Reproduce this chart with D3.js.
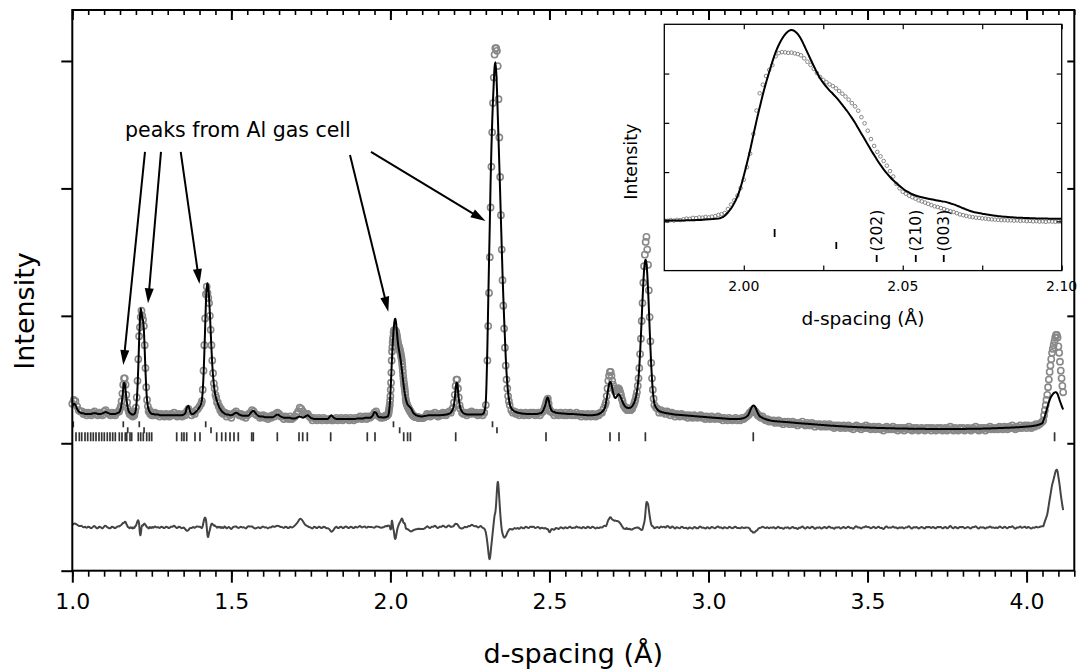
<!DOCTYPE html>
<html>
<head>
<meta charset="utf-8">
<script src="https://cdn.jsdelivr.net/npm/d3@7"></script>
<style>
  html, body { margin: 0; padding: 0; background: #fff; }
  svg { display: block; font-family: "DejaVu Sans", Verdana, sans-serif; }
</style>
</head>
<body>
<svg id="chart" width="1081" height="672"></svg>
<script>
// ---------------------------------------------------------------------------
// Powder diffraction pattern: observed (circles), calculated (line),
// difference (lower trace) and reflection markers for three phases.
// Intensities are in arbitrary units (100 = one major tick).
// ---------------------------------------------------------------------------

// Sampling segments of the pattern: [first d, last d, step] in Å
const sampleSegments = [
  [1.000, 1.145, 0.005],
  [1.1475, 1.2525, 0.0025],
  [1.255, 1.405, 0.005],
  [1.4075, 1.4775, 0.0025],
  [1.480, 1.970, 0.005],
  [1.975, 2.100, 0.001],
  [2.105, 2.195, 0.005],
  [2.1975, 2.2175, 0.0025],
  [2.220, 2.305, 0.005],
  [2.3075, 2.3725, 0.0025],
  [2.375, 2.480, 0.005],
  [2.4825, 2.5025, 0.0025],
  [2.505, 2.675, 0.005],
  [2.6775, 2.8275, 0.0025],
  [2.830, 3.125, 0.005],
  [3.1275, 3.1575, 0.0025],
  [3.160, 4.050, 0.005],
  [4.0525, 4.115, 0.0025]
];

// Observed intensities, one row per sampling segment
const observedBySegment = [
  [31,34,33,29,26,25,25,23,24,22,24,23,22,24,25,23,22,24,23,22,25,26,24,23,22,24,23,22,24,25],
  [25,27,29,33,39,46,51,51,46,38,32,27,25,23,24,22,23,21,23,22,25,
   28,36,49,66,84,91,99,104,100,97,92,77,59,44,34,29,25,26,23,24,22,24],
  [22,24,22,23,21,23,22,21,23,22,21,23,22,24,22,21,23,22,21,
   23,22,25,27,25,22,24,23,26,27,29,31],
  [33,42,57,77,98,117,123,118,114,110,100,89,77,65,55,47,43,38,36,32,32,29,29,26,27,24,25,23,24],
  [24,21,23,22,20,23,24,25,23,22,
   23,21,22,20,22,23,24,26,25,23,
   22,22,20,21,22,20,21,19,21,20,
   22,21,23,24,23,21,21,19,21,20,
   19,21,19,20,21,23,25,28,27,25,
   23,23,23,21,20,18,20,19,18,20,
   19,18,20,19,18,19,19,18,18,19,
   20,18,19,20,18,19,20,19,18,20,
   19,18,20,19,20,21,19,20,21,19,
   21,20,21,22,24,25,22,21,20],
  [20.4,20.2,20.5,20.3,20.6,20.5,20.8,21.1,21.0,21.4,
   21.3,21.6,21.5,21.8,21.6,21.9,22.1,22.6,22.9,23.4,
   25.0,26.8,28.5,30.4,33.5,36.9,42.0,47.5,55.5,65.0,
   72.0,75.5,79.0,81.5,83.4,87.0,88.3,88.7,88.6,88.4,
   88.5,88.2,87.9,87.4,86.2,84.8,83.5,81.9,80.2,78.6,
   77.4,76.5,75.6,74.9,74.0,72.9,71.8,70.7,69.4,68.0,
   66.7,64.9,62.3,59.8,56.8,53.4,50.6,48.2,46.4,44.5,
   42.6,40.4,38.2,35.2,33.4,32.0,31.2,30.4,29.8,29.2,
   28.5,28.1,27.6,27.1,26.6,26.1,25.8,25.4,25.0,24.5,
   24.1,23.8,23.3,22.8,22.5,22.2,21.9,21.7,21.5,21.4,
   21.2,21.1,20.9,20.8,20.7,20.6,20.5,20.5,20.4,20.4,
   20.3,20.4,20.2,20.3,20.1,20.2,20.0,20.1,19.9,20.0,
   19.8,20.0,19.9,19.8,19.9,19.8],
  [20,21,23,22,21,23,22,24,22,21,23,22,24,23,22,24,25,24,27],
  [28,32,38,45,50,50,43,36,30],
  [27,24,23,24,22,24,23,25,24,23,24,22,23,24,22,24,30,65],
  [92,118,146,185,217,244,267,287,305,310,310,308,296,270,240,209,179,152,128,108,90,75,61,50,43,37,33],
  [30,26,24,25,23,24,22,24,23,22,24,23,22,24,23,24,22,23,24,22,24,25],
  [26,28,30,32,34,35,31,27,25],
  [25,24,22,24,23,22,24,23,22,24,22,23,24,22,23,22,24,22,23,21,23,22,21,23,22,21,23,22,21,23,22,24,24,27,30],
  [32,37,43,49,53,56,56,53,49,46,
   43,41,41,41,42,43,43,42,40,38,
   35,33,30,29,28,27,28,26,27,26,
   27,26,27,27,29,30,32,34,37,40,
   45,51,59,70,82,96,110,126,139,148,
   158,162,152,140,120,99,80,63,51,42,
   35],
  [30,28,27,24,26,24,25,23,25,24,
   22,24,23,21,23,22,21,23,22,21,
   22,20,22,21,20,22,21,20,21,22,
   20,21,19,21,20,19,21,20,19,20,
   21,19,20,18,20,19,18,20,19,18,
   19,20,18,19,18,20,19,20,21,22],
  [23,24,24,25,26,25,26,25,25,24,23,22,22],
  [21,20,21,19,18,19,17,18,17,
   18,16,17,18,16,17,15,17,16,17,15,16,17,15,16,14,16,15,17,15,
   14,16,15,14,16,15,13,15,14,15,13,14,15,13,14,15,13,14,12,14,
   13,14,12,13,14,12,13,14,12,13,11,13,14,12,13,11,13,12,14,12,
   13,11,12,13,11,12,13,11,12,10,12,13,11,12,11,13,11,12,10,12,
   11,12,10,12,11,13,11,10,12,11,12,10,11,12,11,10,12,11,12,10,
   12,11,10,12,11,12,10,11,12,10,11,13,11,10,12,11,10,12,11,12,
   10,11,12,11,10,12,11,13,11,10,12,11,12,10,12,11,13,11,12,11,
   12,11,13,12,11,13,12,11,13,12,14,12,11,13,12,14,12,13,14,12,
   14,13,12,14,13,15,14,15,16,17],
  [18,22,26,30,34,38,44,50,56,61,66,71,74,77,80,83,85,85,83,76,71,64,57,51,45,40]
];

// Calculated (refined model) intensities, one row per sampling segment
const calculatedBySegment = [
  [29,31,30,27,25,24,23.5,23.5,23,23,23,23,23,23.5,23.5,23.5,23,23,23,23.5,24,24.5,24,23.5,23,23,23,23,23.5,24],
  [24.5,25.5,27.5,31,36,42.5,47.5,46.5,41.5,35.5,30.5,27,25,24,23.5,23,22.5,22.5,22.5,23,24,
   27,33,44,60,80,97,106,103,98,96,89,74,57,43,34,29,26.5,25,24,23.5,23,23],
  [23,22.5,22.5,22.5,22,22,22,22,22,22,22,22,22,22,22,22,22,22,22,
   22.5,23.5,28,29.5,25,23,23,24,25,26.5,28.5,31],
  [34,41,53,70,90,110,122,125.5,122,114,102,88,74,62,53,46,41,37.5,35,33,31,29.5,28,27,26,25,24.5,24,23.5],
  [23,22.5,22.5,22,22,22.5,23.5,24,23.5,22.5,
   22,21.5,21.5,21.5,21.5,22,23.5,25,25.5,24,
   22.5,21.5,21,21,21,20.5,20.5,20.5,20.5,20.5,
   20.5,21,22,22.5,22,21,20.5,20,20,20,
   20,20,19.5,19.5,19.5,20,20.5,21,20.5,20,
   20.5,21.5,22,21,20,19.5,19,19,19,19,
   19,19,19,19,19,19.5,21,22,20.5,19.5,
   19,19,19,19,19,19,19,19,19,19,
   19,19,19,19.5,19.5,19.5,19.5,19.5,20,20,
   20,20,20.5,22,24.5,24,21.5,20.5,20.5],
  [20.3,20.3,20.3,20.3,20.3,20.3,20.3,20.4,20.4,20.4,
   20.5,20.5,20.6,20.7,20.8,20.9,21.0,21.1,21.5,22.3,
   23.6,25.2,27.4,30.1,33.8,38.5,43.6,49.0,54.9,60.8,
   66.2,71.5,76.3,80.6,84.8,88.6,91.6,94.0,95.9,97.2,
   97.7,97.2,96.0,94.0,91.4,88.6,85.8,83.1,80.4,78.1,
   76.2,74.6,73.1,71.8,70.4,68.9,67.3,65.6,63.9,62.0,
   60.0,57.8,55.6,53.4,51.2,49.0,46.9,44.8,42.9,41.1,
   39.5,38.0,36.7,35.5,34.4,33.3,32.4,31.7,31.0,30.5,
   30.1,29.8,29.5,29.2,29.0,28.7,28.5,28.2,28.0,27.7,
   27.3,26.9,26.4,25.9,25.3,24.8,24.3,23.9,23.6,23.4,
   23.1,22.9,22.7,22.5,22.3,22.1,22.0,21.9,21.8,21.7,
   21.6,21.5,21.5,21.4,21.4,21.3,21.3,21.2,21.2,21.2,
   21.2,21.1,21.1,21.1,21.1,21.1],
  [21.3,21.5,21.7,21.9,22.0,22.0,22.0,22.0,22.0,22.0,22.0,22.1,22.2,22.3,22.5,22.8,23.3,24.2,26.0],
  [27.5,30.5,35.5,42,47.5,47,41.5,35,30.5],
  [27.5,25,23.5,23,22.5,22.5,22.5,22.5,22.5,22.5,22.5,22.5,22.5,22.5,22.8,24.5,33,77],
  [110,142,172,205,231,252,269,283,295,299,292,278,258,238,218,197,175,154,133,115,98,83,68,56,47,40,35],
  [31,27.5,26,25,24.5,24,23.8,23.5,23.3,23.2,23.1,23,23,23,23,23,23,23,23.2,23.5,24,25.5],
  [27,28.5,30.5,33,35.5,36,34,31,28.5],
  [26.5,25,24.5,24,23.8,23.6,23.5,23.4,23.3,23.2,23.1,23,23,23,22.9,22.8,22.7,22.6,22.5,22.4,
   22.3,22.2,22.1,22,22,22,22,22.1,22.3,22.6,23,23.6,24.5,26,28.5],
  [31.5,35,39,43,46.5,48,48,46,43,40,
   37.5,36,35.5,36,37,38,38.5,38,37,35.5,
   34,32.5,31,30,29,28.5,28,27.8,27.7,27.7,
   27.8,28,28.5,29,30,31,32.5,34.5,37,40.5,
   45,51,60,71,84,98,112,125,136,142,
   144,141,133,121,106,90,75,61,50,41,
   35],
  [31,28,26.3,25.3,24.7,24.3,24,23.7,23.5,23.3,
   23.1,22.9,22.7,22.5,22.4,22.3,22.2,22.1,22,21.9,
   21.8,21.7,21.6,21.5,21.4,21.3,21.2,21.1,21,20.9,
   20.8,20.7,20.6,20.5,20.4,20.3,20.2,20.1,20,19.9,
   19.8,19.7,19.6,19.5,19.4,19.3,19.2,19.1,19.1,19,
   19,19,19,19.1,19.2,19.4,19.7,20.2,21,22.2],
  [23.5,25,26.5,28,29,29.5,29.6,29.2,28.2,26.8,25.2,23.8,22.6],
  [21.5,20.6,19.9,19.3,18.8,18.4,18.1,17.8,17.6,
   17.4,17.3,17.2,17.1,17.0,16.9,16.8,16.7,16.6,16.5,16.4,16.3,16.2,16.1,16.0,15.9,15.8,15.7,15.6,15.5,
   15.4,15.3,15.2,15.1,15.0,14.9,14.8,14.7,14.6,14.5,14.4,14.3,14.2,14.1,14.0,13.9,13.8,13.8,13.7,13.6,
   13.5,13.4,13.4,13.3,13.2,13.1,13.1,13.0,12.9,12.9,12.8,12.7,12.7,12.6,12.6,12.5,12.5,12.4,12.4,12.3,
   12.3,12.2,12.2,12.1,12.1,12.0,12.0,12.0,11.9,11.9,11.9,11.8,11.8,11.8,11.7,11.7,11.7,11.6,11.6,11.6,
   11.6,11.5,11.5,11.5,11.5,11.4,11.4,11.4,11.4,11.4,11.3,11.3,11.3,11.3,11.3,11.3,11.2,11.2,11.2,11.2,
   11.2,11.2,11.2,11.2,11.2,11.2,11.2,11.2,11.2,11.2,11.2,11.2,11.2,11.2,11.2,11.2,11.2,11.2,11.2,11.2,
   11.2,11.3,11.3,11.3,11.3,11.3,11.3,11.4,11.4,11.4,11.4,11.5,11.5,11.5,11.6,11.6,11.6,11.7,11.7,11.8,
   11.8,11.9,11.9,12.0,12.0,12.1,12.1,12.2,12.2,12.3,12.4,12.4,12.5,12.6,12.6,12.7,12.8,12.9,13.0,13.1,
   13.2,13.3,13.4,13.6,13.8,14.0,14.3,14.7,15.2,16.0],
  [17.5,19.2,21.2,23.5,25.8,28,30.2,32.2,34,35.5,36.7,37.7,38.6,39.3,39.8,40.1,40.1,39.6,38.5,36.8,34.9,33,31.4,29.6,28,26.5]
];

// Reflection positions (Å) for the three phases
const alMarkers       = [1.003, 1.1603, 1.2106, 1.4194, 2.0097, 2.321];
const alSecondMarkers = [1.1742, 1.2256, 1.436, 2.0291, 2.335];
const phaseMarkers    = [1.0116, 1.0220, 1.0296, 1.0399, 1.0484, 1.0578, 1.0660, 1.0745, 1.0839, 1.0924,
                         1.1006, 1.1100, 1.1185, 1.1270, 1.1352, 1.1478, 1.1562, 1.1666, 1.1710, 1.1814,
                         1.1867, 1.2075, 1.2150, 1.2232, 1.2339, 1.2421, 1.2496, 1.3282, 1.3439, 1.3511,
                         1.3596, 1.3857, 1.4014, 1.4539, 1.4697, 1.4822, 1.4958, 1.5083, 1.5218, 1.5640,
                         1.5690, 1.6445, 1.7127, 1.7243, 1.7388, 1.8123, 1.9274, 1.9516, 2.0418, 2.0541,
                         2.0629, 2.2053, 2.4892, 2.6904, 2.7187, 2.8016, 3.1408, 4.0880];

// Indexed reflections labelled in the close-up
const hklPositions = [2.0418, 2.0541, 2.0629];
const hklNames     = ["(202)", "(210)", "(003)"];

// Axis ticks
const xMajorTicks  = [1.0, 1.5, 2.0, 2.5, 3.0, 3.5, 4.0];
const xTickLabels  = ["1.0", "1.5", "2.0", "2.5", "3.0", "3.5", "4.0"];
const yTicks       = [-100, 0, 100, 200, 300];
const insetXTicks  = [2.0, 2.025, 2.05, 2.075, 2.1];
const insetXLabelValues = [2.0, 2.05, 2.1];
const insetXLabels = ["2.00", "2.05", "2.10"];
const insetYTicks  = [20, 40, 60, 80];

const annotationText = "peaks from Al gas cell";

// ---------------------------------------------------------------------------
// Assemble the pattern
// ---------------------------------------------------------------------------
const pattern = [];
sampleSegments.forEach(([first, last, step], k) => {
  const n = Math.round((last - first) / step) + 1;
  const obs = observedBySegment[k], calc = calculatedBySegment[k];
  if (obs.length !== n || calc.length !== n) {
    throw new Error(`segment ${k} (${first}-${last}): expected ${n}, observed ${obs.length}, calculated ${calc.length}`);
  }
  for (let i = 0; i < n; i++) {
    pattern.push({ d: +(first + i * step).toFixed(4), obs: obs[i], calc: calc[i] });
  }
});

const diffOffset = -66;

// ---------------------------------------------------------------------------
// Main plot
// ---------------------------------------------------------------------------
const svg = d3.select("#chart");
const x = d3.scaleLinear().domain([1.0, 4.15]).range([72.3, 1074.3]);
const y = d3.scaleLinear().domain([-100, 340]).range([570.7, 10]);

const minorTicks = d3.range(0, 64).map(i => +(1 + i * 0.05).toFixed(2));

function styleAxis(g, width) {
  g.select(".domain").remove();
  g.selectAll(".tick line").attr("stroke", "#000").attr("stroke-width", width);
}

// bottom axis
svg.append("g").attr("transform", `translate(0,${y(-100)})`)
  .call(d3.axisBottom(x).tickValues(minorTicks).tickSize(6).tickFormat(""))
  .call(g => styleAxis(g, 1.6));
svg.append("g").attr("transform", `translate(0,${y(-100)})`)
  .call(d3.axisBottom(x).tickValues(xMajorTicks).tickSize(12).tickPadding(11)
        .tickFormat((v, i) => xTickLabels[i]))
  .call(g => {
    styleAxis(g, 2);
    g.selectAll("text").attr("font-size", 22).attr("fill", "#000")
      .attr("font-family", "DejaVu Sans, sans-serif");
  });

// top axis (inward ticks)
svg.append("g").attr("transform", `translate(0,${y(340)})`)
  .call(d3.axisTop(x).tickValues(minorTicks).tickSize(-5).tickFormat(""))
  .call(g => styleAxis(g, 1.6));
svg.append("g").attr("transform", `translate(0,${y(340)})`)
  .call(d3.axisTop(x).tickValues(xMajorTicks).tickSize(-10).tickFormat(""))
  .call(g => styleAxis(g, 2));

// left and right axes
svg.append("g").attr("transform", `translate(${x(1.0)},0)`)
  .call(d3.axisLeft(y).tickValues(yTicks).tickSize(11).tickFormat(""))
  .call(g => styleAxis(g, 2));
svg.append("g").attr("transform", `translate(${x(4.15)},0)`)
  .call(d3.axisRight(y).tickValues(yTicks.filter(v => v >= 0)).tickSize(-7).tickFormat(""))
  .call(g => styleAxis(g, 2));

// observed points
svg.append("g")
  .selectAll("circle").data(pattern).join("circle")
  .attr("cx", p => x(p.d)).attr("cy", p => y(p.obs)).attr("r", 3.1)
  .attr("fill", "none").attr("stroke", "#888").attr("stroke-width", 1.6);

// calculated profile
const calcLine = d3.line().x(p => x(p.d)).y(p => y(p.calc)).curve(d3.curveMonotoneX);
svg.append("path").datum(pattern).attr("d", calcLine)
  .attr("fill", "none").attr("stroke", "#000").attr("stroke-width", 2);

// difference curve
const diffLine = d3.line().x(p => x(p.d)).y(p => y(p.obs - p.calc + diffOffset)).curve(d3.curveBasis);
svg.append("path").datum(pattern).attr("d", diffLine)
  .attr("fill", "none").attr("stroke", "#444").attr("stroke-width", 2);

// reflection markers
const y0 = y(0);
const markerRows = [
  { values: alMarkers,       top: y0 - 22, bottom: y0 - 16 },
  { values: alSecondMarkers, top: y0 - 16, bottom: y0 - 10 },
  { values: phaseMarkers,    top: y0 - 11, bottom: y0 - 2 }
];
markerRows.forEach(row => {
  svg.append("g").selectAll("line").data(row.values).join("line")
    .attr("x1", v => x(v)).attr("x2", v => x(v))
    .attr("y1", row.top).attr("y2", row.bottom)
    .attr("stroke", "#333").attr("stroke-width", 1.7);
});

// frame
svg.append("rect")
  .attr("x", x(1.0)).attr("y", y(340))
  .attr("width", x(4.15) - x(1.0)).attr("height", y(-100) - y(340))
  .attr("fill", "none").attr("stroke", "#000").attr("stroke-width", 2);

// axis titles
svg.append("text").attr("x", (x(1.0) + x(4.15)) / 2).attr("y", 663)
  .attr("text-anchor", "middle").attr("font-size", 27).text("d-spacing (Å)");
svg.append("text").attr("transform", "translate(34,311) rotate(-90)")
  .attr("text-anchor", "middle").attr("font-size", 27).text("Intensity");

// annotation with arrows to the Al peaks
svg.append("text").attr("x", x(1.1657)).attr("y", y(240.4))
  .attr("font-size", 20.5).text(annotationText);

const arrowLinks = [
  { from: [1.2285, 228.6], to: [1.1603, 61.4] },
  { from: [1.2788, 228.6], to: [1.2380, 109.9] },
  { from: [1.3408, 228.6], to: [1.3999, 125.0] },
  { from: [1.8730, 226.2], to: [1.9934, 103.3] },
  { from: [1.9390, 228.6], to: [2.2990, 174.4] }
];
const arrowG = svg.append("g");
arrowLinks.forEach(a => {
  const sx = x(a.from[0]), sy = y(a.from[1]);
  const tx = x(a.to[0]), ty = y(a.to[1]);
  const len = Math.hypot(tx - sx, ty - sy);
  const ux = (tx - sx) / len, uy = (ty - sy) / len;
  const headL = 15, headW = 4.5;
  const bx = tx - ux * headL, by = ty - uy * headL;
  arrowG.append("line").attr("x1", sx).attr("y1", sy).attr("x2", bx + ux * 2).attr("y2", by + uy * 2)
    .attr("stroke", "#000").attr("stroke-width", 2);
  arrowG.append("path")
    .attr("d", `M${tx},${ty}L${bx - uy * headW},${by + ux * headW}L${bx + uy * headW},${by - ux * headW}Z`)
    .attr("fill", "#000");
});

// ---------------------------------------------------------------------------
// Inset: close-up of the 2.0 Å region
// ---------------------------------------------------------------------------
const ix = d3.scaleLinear().domain([1.975, 2.10]).range([664.3, 1061.7]);
const iy = d3.scaleLinear().domain([0, 100]).range([270.6, 24.3]);
const inset = svg.append("g");

inset.append("rect")
  .attr("x", ix(1.975)).attr("y", iy(100))
  .attr("width", ix(2.10) - ix(1.975)).attr("height", iy(0) - iy(100))
  .attr("fill", "#fff");

svg.append("defs").append("clipPath").attr("id", "insetClip")
  .append("rect")
  .attr("x", ix(1.975)).attr("y", iy(100))
  .attr("width", ix(2.10) - ix(1.975)).attr("height", iy(0) - iy(100));

const insetData = pattern.filter(p => p.d >= 1.975 - 1e-9 && p.d <= 2.10 + 1e-9);
const insetPlot = inset.append("g").attr("clip-path", "url(#insetClip)");

insetPlot.append("g").selectAll("circle").data(insetData).join("circle")
  .attr("cx", p => ix(p.d)).attr("cy", p => iy(p.obs)).attr("r", 1.8)
  .attr("fill", "none").attr("stroke", "#7a7a7a").attr("stroke-width", 0.9);

insetPlot.append("path").datum(insetData)
  .attr("d", d3.line().x(p => ix(p.d)).y(p => iy(p.calc)).curve(d3.curveMonotoneX))
  .attr("fill", "none").attr("stroke", "#000").attr("stroke-width", 2);

// inset reflection markers
const inDomain = v => v > 1.975 && v < 2.10;
const insetRows = [
  { values: alMarkers.filter(inDomain),       top: 229, bottom: 237 },
  { values: alSecondMarkers.filter(inDomain), top: 242, bottom: 249 },
  { values: phaseMarkers.filter(inDomain),    top: 255, bottom: 262 }
];
insetRows.forEach(row => {
  inset.append("g").selectAll("line").data(row.values).join("line")
    .attr("x1", v => ix(v)).attr("x2", v => ix(v))
    .attr("y1", row.top).attr("y2", row.bottom)
    .attr("stroke", "#000").attr("stroke-width", 1.8);
});
inset.append("g").selectAll("text").data(hklPositions).join("text")
  .attr("transform", v => `translate(${ix(v)},251.5) rotate(-90)`)
  .attr("dy", "0.36em").attr("font-size", 15.5)
  .text((v, i) => hklNames[i]);

// inset axes (all ticks inward)
inset.append("g").attr("transform", `translate(0,${iy(0)})`)
  .call(d3.axisBottom(ix).tickValues(insetXTicks).tickSize(-5).tickFormat(""))
  .call(g => styleAxis(g, 1.2));
inset.append("g").attr("transform", `translate(0,${iy(100)})`)
  .call(d3.axisTop(ix).tickValues(insetXTicks).tickSize(-5).tickFormat(""))
  .call(g => styleAxis(g, 1.2));
inset.append("g").attr("transform", `translate(${ix(1.975)},0)`)
  .call(d3.axisLeft(iy).tickValues(insetYTicks).tickSize(-5).tickFormat(""))
  .call(g => styleAxis(g, 1.2));
inset.append("g").attr("transform", `translate(${ix(2.10)},0)`)
  .call(d3.axisRight(iy).tickValues(insetYTicks).tickSize(-5).tickFormat(""))
  .call(g => styleAxis(g, 1.2));

inset.append("rect")
  .attr("x", ix(1.975)).attr("y", iy(100))
  .attr("width", ix(2.10) - ix(1.975)).attr("height", iy(0) - iy(100))
  .attr("fill", "none").attr("stroke", "#000").attr("stroke-width", 1.3);

inset.append("g").selectAll("text").data(insetXLabelValues).join("text")
  .attr("x", v => ix(v)).attr("y", 290.5)
  .attr("text-anchor", "middle").attr("font-size", 14)
  .text((v, i) => insetXLabels[i]);

inset.append("text").attr("x", (ix(1.975) + ix(2.10)) / 2).attr("y", 325)
  .attr("text-anchor", "middle").attr("font-size", 18.5).text("d-spacing (Å)");
inset.append("text").attr("transform", "translate(637,161.7) rotate(-90)")
  .attr("text-anchor", "middle").attr("font-size", 17.5).text("Intensity");
</script>
</body>
</html>
